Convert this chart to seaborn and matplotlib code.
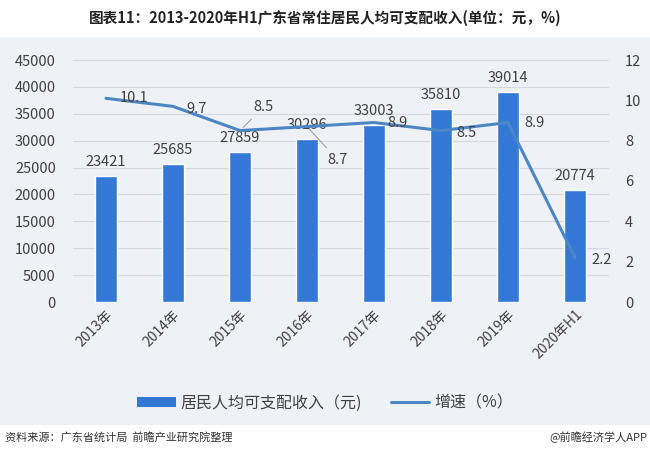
import numpy as np
import pandas as pd
import matplotlib.pyplot as plt
import seaborn as sns
from matplotlib.patches import Rectangle
from matplotlib.lines import Line2D

years = ['2013年', '2014年', '2015年', '2016年', '2017年', '2018年', '2019年', '2020年H1']
income = [23421, 25685, 27859, 30296, 33003, 35810, 39014, 20774]
growth = [10.1, 9.7, 8.5, 8.7, 8.9, 8.5, 8.9, 2.2]
# label offsets for the growth labels (points)
growth_offsets = [(20, 0), (17, -2), (17, 17), (22, -24), (17, 0), (18, -2), (19, 0), (19, -2)]

sns.set_theme(style="white")
plt.rcParams['font.family'] = ['Noto Sans CJK SC', 'DejaVu Sans']

bar_color = '#3378d4'
line_color = '#4c86c3'
panel_color = '#eef1f6'
text_color = '#404040'

fig = plt.figure(figsize=(6.5, 4.62), dpi=100)
fig.patch.set_facecolor('white')
fig.patches.append(Rectangle((0, 37 / 462), 1, 388 / 462, transform=fig.transFigure,
                             facecolor=panel_color, edgecolor='none', zorder=-10))

ax = fig.add_axes([72.5 / 650, 160 / 462, 536 / 650, 242 / 462])
ax.set_facecolor('none')

df = pd.DataFrame({'year': years, 'income': income, 'growth': growth})
sns.barplot(data=df, x='year', y='income', color=bar_color, saturation=1,
            width=0.32, ax=ax, zorder=2)
ax.set_ylim(0, 45000)
ax.set_xlim(-0.5, len(years) - 0.5)
ax.set_yticks(range(0, 45001, 5000))
ax.yaxis.grid(True, color='#d6dae0', linewidth=0.8, zorder=0)
ax.set_axisbelow(True)
for s in ax.spines.values():
    s.set_visible(False)
ax.set_xlabel('')
ax.set_ylabel('')
ax.tick_params(axis='y', labelsize=10.5, colors=text_color, length=0, pad=12)
ax.tick_params(axis='x', labelsize=10, colors=text_color, length=0, pad=4)
plt.setp(ax.get_xticklabels(), rotation=45, ha='right', rotation_mode='anchor')

for i, v in enumerate(income):
    ax.annotate(str(v), (i, v), xytext=(0, 5), textcoords='offset points',
                ha='center', va='bottom', fontsize=10.5, color=text_color, zorder=5)

ax2 = ax.twinx()
sns.lineplot(x=np.arange(len(years)), y=growth, color=line_color, linewidth=2.2,
             ax=ax2, zorder=4)
ax2.set_ylim(0, 12)
ax2.set_yticks(range(0, 13, 2))
for s in ax2.spines.values():
    s.set_visible(False)
ax2.tick_params(axis='y', labelsize=10.5, colors=text_color, length=0, pad=12)
ax2.set_ylabel('')

for i, (v, off) in enumerate(zip(growth, growth_offsets)):
    arrow = None
    if i in (2, 3):
        arrow = dict(arrowstyle='-', color='#a0a0a0', lw=0.8, shrinkA=2, shrinkB=3)
    ax2.annotate(f'{v}', (i, v), xytext=off, textcoords='offset points',
                 ha='center', va='center', fontsize=10.5, color=text_color,
                 arrowprops=arrow, zorder=6)

handles = [Rectangle((0, 0), 1, 1, facecolor=bar_color, edgecolor='none'),
           Line2D([0], [0], color=line_color, linewidth=2.2)]
fig.legend(handles, ['居民人均可支配收入（元)', '增速（%）'], loc='center',
           bbox_to_anchor=(0.5, 59 / 462), ncol=2, frameon=False, fontsize=11.5,
           handlelength=2.4, handleheight=0.6, handletextpad=0.3, columnspacing=1.8,
           labelcolor=text_color)

fig.text(0.5, 1 - 18 / 462, '图表11：2013-2020年H1广东省常住居民人均可支配收入(单位：元，%)',
         ha='center', va='center', fontsize=10.5, fontweight='bold', color='#222222')
fig.text(5 / 650, 1 - 437 / 462, '资料来源：广东省统计局  前瞻产业研究院整理',
         ha='left', va='center', fontsize=8, color='#333333')
fig.text(1 - 3 / 650, 1 - 437 / 462, '@前瞻经济学人APP',
         ha='right', va='center', fontsize=8, color='#333333')

fig.savefig('out.png', dpi=100, facecolor=fig.get_facecolor())
